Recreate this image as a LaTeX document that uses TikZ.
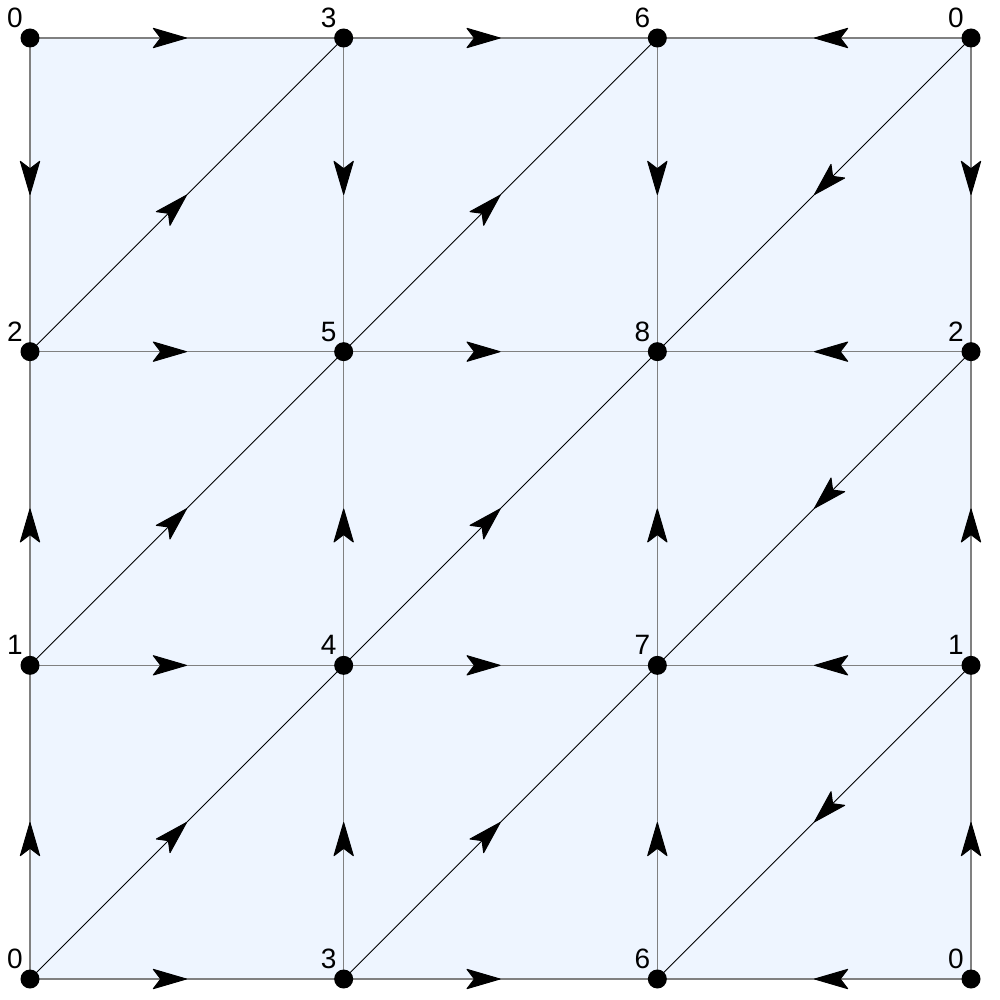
\documentclass[tikz,border=0pt]{standalone}
\usepackage{fontspec}
\setmainfont{Liberation Sans}
\usetikzlibrary{arrows.meta,decorations.markings}
\definecolor{bgfill}{HTML}{EEF5FF}
\definecolor{gridgray}{HTML}{808080}
\tikzset{
  dot/.style={circle,fill=black,inner sep=0pt,minimum size=19pt},
  lbl/.style={inner sep=0pt,font=\fontsize{28}{28}\selectfont},
  midarrow/.style={postaction={decorate},
    decoration={markings,mark=at position 0.5 with {\arrow[black,line width=1pt]{Stealth[length=36pt,width=21pt,inset=8pt,round]}}}},
  gridedge/.style={draw=gridgray,line width=1.3pt,midarrow},
  diagedge/.style={draw=black,line width=0.9pt,midarrow},
}
\begin{document}
\begin{tikzpicture}[x=1pt,y=-1pt]
\useasboundingbox (0,0) rectangle (1000,1000);
\fill[bgfill] (30,38) rectangle (971,979);
% points
\foreach \i in {0,1,2,3}{
  \foreach \j in {0,1,2,3}{
    \coordinate (p-\i-\j) at ({30+313.667*\i},{38+313.667*\j});
  }
}
% horizontal edges
\foreach \j in {0,1,2,3}{
  \draw[gridedge] (p-0-\j) -- (p-1-\j);
  \draw[gridedge] (p-1-\j) -- (p-2-\j);
  \draw[gridedge] (p-3-\j) -- (p-2-\j);
}
% vertical edges
\foreach \i in {0,1,2,3}{
  \draw[gridedge] (p-\i-0) -- (p-\i-1);
  \draw[gridedge] (p-\i-2) -- (p-\i-1);
  \draw[gridedge] (p-\i-3) -- (p-\i-2);
}
% diagonals
\foreach \j [evaluate=\j as \jj using int(\j+1)] in {0,1,2}{
  \draw[diagedge] (p-0-\jj) -- (p-1-\j);
  \draw[diagedge] (p-1-\jj) -- (p-2-\j);
  \draw[diagedge] (p-3-\j) -- (p-2-\jj);
}
% dots
\foreach \i in {0,1,2,3}{
  \foreach \j in {0,1,2,3}{
    \node[dot] (d-\i-\j) at (p-\i-\j) {};
  }
}
% labels
\foreach \i/\j/\t in {0/0/0,1/0/3,2/0/6,3/0/0,
                       0/1/2,1/1/5,2/1/8,3/1/2,
                       0/2/1,1/2/4,2/2/7,3/2/1,
                       0/3/0,1/3/3,2/3/6,3/3/0}{
  \node[lbl] (l-\i-\j) at ([shift={(-15,-20)}]p-\i-\j) {\t};
}
\end{tikzpicture}
\end{document}
